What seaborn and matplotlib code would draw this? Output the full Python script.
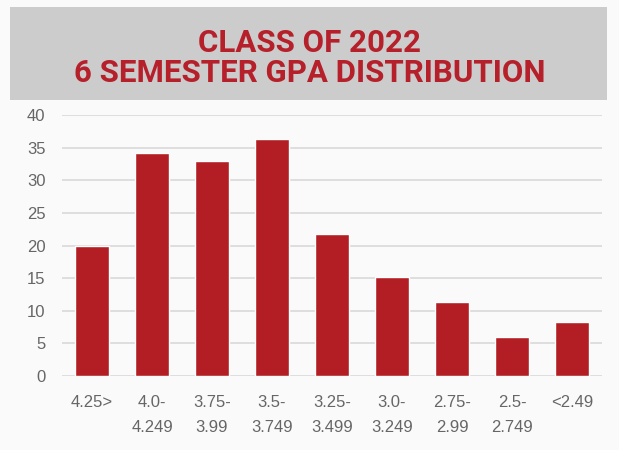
import matplotlib
matplotlib.use("Agg")
import matplotlib.pyplot as plt
from matplotlib.patches import Rectangle
import seaborn as sns
import pandas as pd

categories = ["4.25>", "4.0-\n4.249", "3.75-\n3.99", "3.5-\n3.749", "3.25-\n3.499",
              "3.0-\n3.249", "2.75-\n2.99", "2.5-\n2.749", "<2.49"]
values = [20, 34.2, 33, 36.3, 21.8, 15.2, 11.3, 6.0, 8.3]
yticks = [0, 5, 10, 15, 20, 25, 30, 35, 40]
title_lines = ["CLASS OF 2022", "6 SEMESTER GPA DISTRIBUTION"]

RED = "#B31E25"
TITLE_RED = "#B5202A"
df = pd.DataFrame({"cat": categories, "val": values})

sns.set_theme(style="white")
plt.rcParams["font.family"] = ["Liberation Sans", "DejaVu Sans"]

fig = plt.figure(figsize=(6.19, 4.5), dpi=100)
fig.patch.set_facecolor("#FAFAFA")

# title box
fig.patches.append(Rectangle((10 / 619, 1 - 100 / 450), (607 - 10) / 619, (100 - 7) / 450,
                             transform=fig.transFigure, facecolor="#CCCCCC",
                             edgecolor="none", zorder=0))
fig.text(0.5, 1 - 43 / 450, title_lines[0], ha="center", va="center",
         color=TITLE_RED, fontsize=22.5, fontweight="bold", family="Roboto")
fig.text(0.5, 1 - 73 / 450, title_lines[1], ha="center", va="center",
         color=TITLE_RED, fontsize=22.5, fontweight="bold", family="Roboto")

ax = fig.add_axes([62 / 619, 74 / 450, (602 - 62) / 619, (376 - 115) / 450])
ax.set_facecolor("#FAFAFA")
sns.barplot(data=df, x="cat", y="val", color=RED, saturation=1, width=0.57,
            ax=ax, zorder=3)
ax.set_xlim(-0.5, len(categories) - 0.5)
ax.set_ylim(0, 40)
ax.set_yticks(yticks)
ax.set_yticklabels([str(t) for t in yticks])
ax.yaxis.grid(True, color="#D9D9D9", linewidth=1.2, zorder=0)
ax.set_axisbelow(True)
for s in ax.spines.values():
    s.set_visible(False)
ax.set_xlabel("")
ax.set_ylabel("")
ax.tick_params(axis="y", length=0, pad=12, labelsize=12, labelcolor="#666666")
ax.tick_params(axis="x", length=0, pad=14, labelsize=12, labelcolor="#666666")
for lbl in ax.get_xticklabels():
    lbl.set_linespacing(1.8)

fig.savefig("out.png", dpi=100, facecolor=fig.get_facecolor())
